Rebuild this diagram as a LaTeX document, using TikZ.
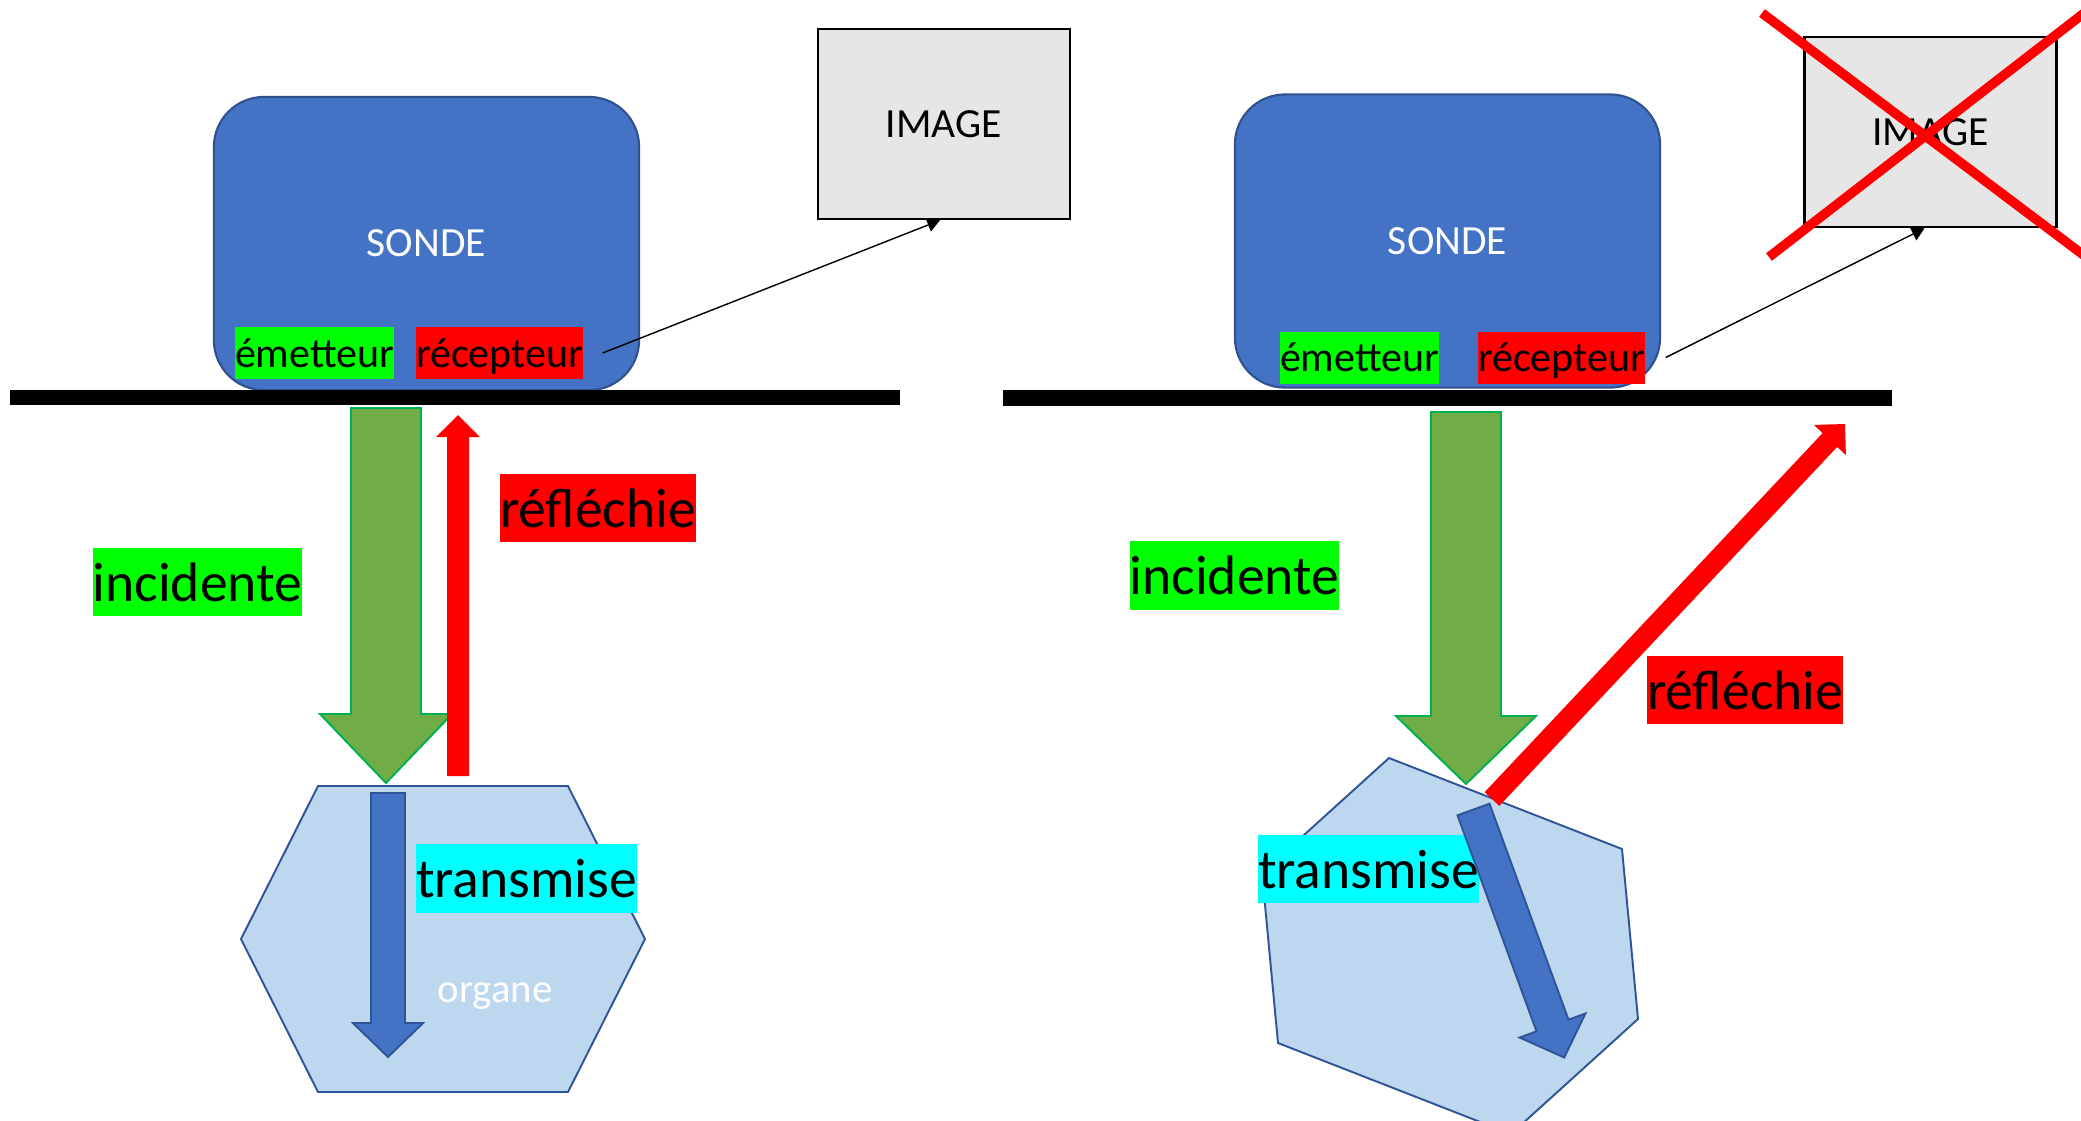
\documentclass[tikz,border=0pt]{standalone}
\usepackage{fontspec}
\setmainfont{Carlito}
\usetikzlibrary{arrows.meta}
\definecolor{sondeblue}{HTML}{4472C4}
\definecolor{sondeedge}{HTML}{2F528F}
\definecolor{arrgreen}{HTML}{70AD47}
\definecolor{arrgreenedge}{HTML}{00B050}
\definecolor{organfill}{HTML}{BDD7EE}
\definecolor{organedge}{HTML}{2F5597}
\definecolor{imgfill}{HTML}{E7E6E6}
\definecolor{hlgreen}{HTML}{00FF00}
\definecolor{hlred}{HTML}{FF0000}
\definecolor{hlcyan}{HTML}{00FFFF}
\definecolor{redarr}{HTML}{FF0000}
\tikzset{
  sondebox/.style={draw=sondeedge, line width=0.6pt, fill=sondeblue, rounded corners=0.5cm,
    minimum width=4.25cm, minimum height=2.93cm, text=white,
    font=\fontsize{11.8pt}{14pt}\selectfont, inner sep=0pt},
  imagebox/.style={draw=black, line width=0.7pt, fill=imgfill, minimum width=2.52cm,
    minimum height=1.9cm, font=\fontsize{11.8pt}{14pt}\selectfont, inner sep=0pt},
  smalllbl/.style={inner sep=0pt, text height=11.38pt, text depth=3.41pt,
    font=\fontsize{11.95pt}{14pt}\selectfont, text=black},
  biglbl/.style={inner sep=0pt, text height=15.08pt, text depth=4.27pt,
    font=\fontsize{15.8pt}{19pt}\selectfont, text=black},
  thinarrow/.style={line width=0.4pt, -{Triangle[length=3.6pt,width=4pt]}},
  greenarrow/.style={fill=arrgreen, draw=arrgreenedge, line width=0.55pt, line join=miter},
  redarrow/.style={fill=redarr},
  organ/.style={fill=organfill, draw=organedge, line width=0.55pt},
  bluearrow/.style={fill=sondeblue, draw=organedge, line width=0.55pt, line join=miter},
  cross/.style={draw=redarr, line width=2.7pt},
  organtext/.style={text=white, font=\fontsize{11.6pt}{14pt}\selectfont, inner sep=0pt},
}
\begin{document}
\begin{tikzpicture}[x=0.01cm, y=-0.01cm]
\useasboundingbox (0,0) rectangle (2081,1120);
\clip (0,0) rectangle (2081,1120);
% ---------------- left ----------------
\node[sondebox] (sondeL) at (426.5,243.5) {SONDE};
\node[smalllbl, fill=hlgreen] (emL) at (314.5,353) {émetteur};
\node[smalllbl, fill=hlred] (recL) at (499.5,353) {récepteur};
\fill[black] (10,390) rectangle (900,405);
\node[imagebox] (imgL) at (944,124) {IMAGE};
\draw[thinarrow] ([xshift=0.19cm]recL.east) -- ([xshift=-0.04cm]imgL.south);
\filldraw[greenarrow] (351,408) -- (421,408) -- (421,714) -- (452,714) -- (386,783) -- (320,714) -- (351,714) -- cycle;
\fill[redarrow] (447,776) -- (447,437) -- (436,437) -- (458,415) -- (480,437) -- (469,437) -- (469,776) -- cycle;
\filldraw[organ] (318,786) -- (568,786) -- (645,939) -- (568,1092) -- (318,1092) -- (241,939) -- cycle;
\filldraw[bluearrow] (371,793) -- (405,793) -- (405,1023) -- (423,1023) -- (388,1057) -- (353,1023) -- (371,1023) -- cycle;
\node[biglbl, fill=hlcyan] (trL) at (526.5,878.5) {transmise};
\node[organtext, anchor=base] (orgL) at (495,1002) {organe};
\node[biglbl, fill=hlred] (refL) at (598,508) {réfléchie};
\node[biglbl, fill=hlgreen] (incL) at (197.5,582) {incidente};
% ---------------- right ----------------
\node[sondebox] (sondeR) at (1447.5,241) {SONDE};
\node[smalllbl, fill=hlgreen] (emR) at (1359.5,357.5) {émetteur};
\node[smalllbl, fill=hlred] (recR) at (1561.5,357.5) {récepteur};
\fill[black] (1003,390) rectangle (1892,406);
\node[imagebox] (imgR) at (1930.5,132) {IMAGE};
\draw[thinarrow] ([xshift=0.2cm]recR.east) -- ([xshift=-0.06cm]imgR.south);
\draw[cross] (1762,13) -- (2110,275);
\draw[cross] (1769,257) -- (2110,-7);
\filldraw[organ] (1389,758) -- (1622,849) -- (1638,1019) -- (1511,1134) -- (1278,1043) -- (1262,873) -- cycle;
\filldraw[greenarrow] (1431,412) -- (1501,412) -- (1501,716) -- (1536,716) -- (1466,784) -- (1396,716) -- (1431,716) -- cycle;
\fill[redarrow] (1499.3,805.9) -- (1837.2,446.9) -- (1845.9,455.1) -- (1845,424) -- (1813.9,424.9) -- (1822.6,433.1) -- (1484.7,792.1) -- cycle;
\node[biglbl, fill=hlcyan] (trR) at (1368.5,869) {transmise};
\filldraw[bluearrow] (1489.5,803.7) -- (1568.5,1019.7) -- (1585.4,1013.5) -- (1564.2,1057.5) -- (1519.6,1037.5) -- (1536.5,1031.3) -- (1457.5,815.3) -- cycle;
\node[biglbl, fill=hlgreen] (incR) at (1234.5,575.5) {incidente};
\node[biglbl, fill=hlred] (refR) at (1745,690) {réfléchie};
\end{tikzpicture}
\end{document}
